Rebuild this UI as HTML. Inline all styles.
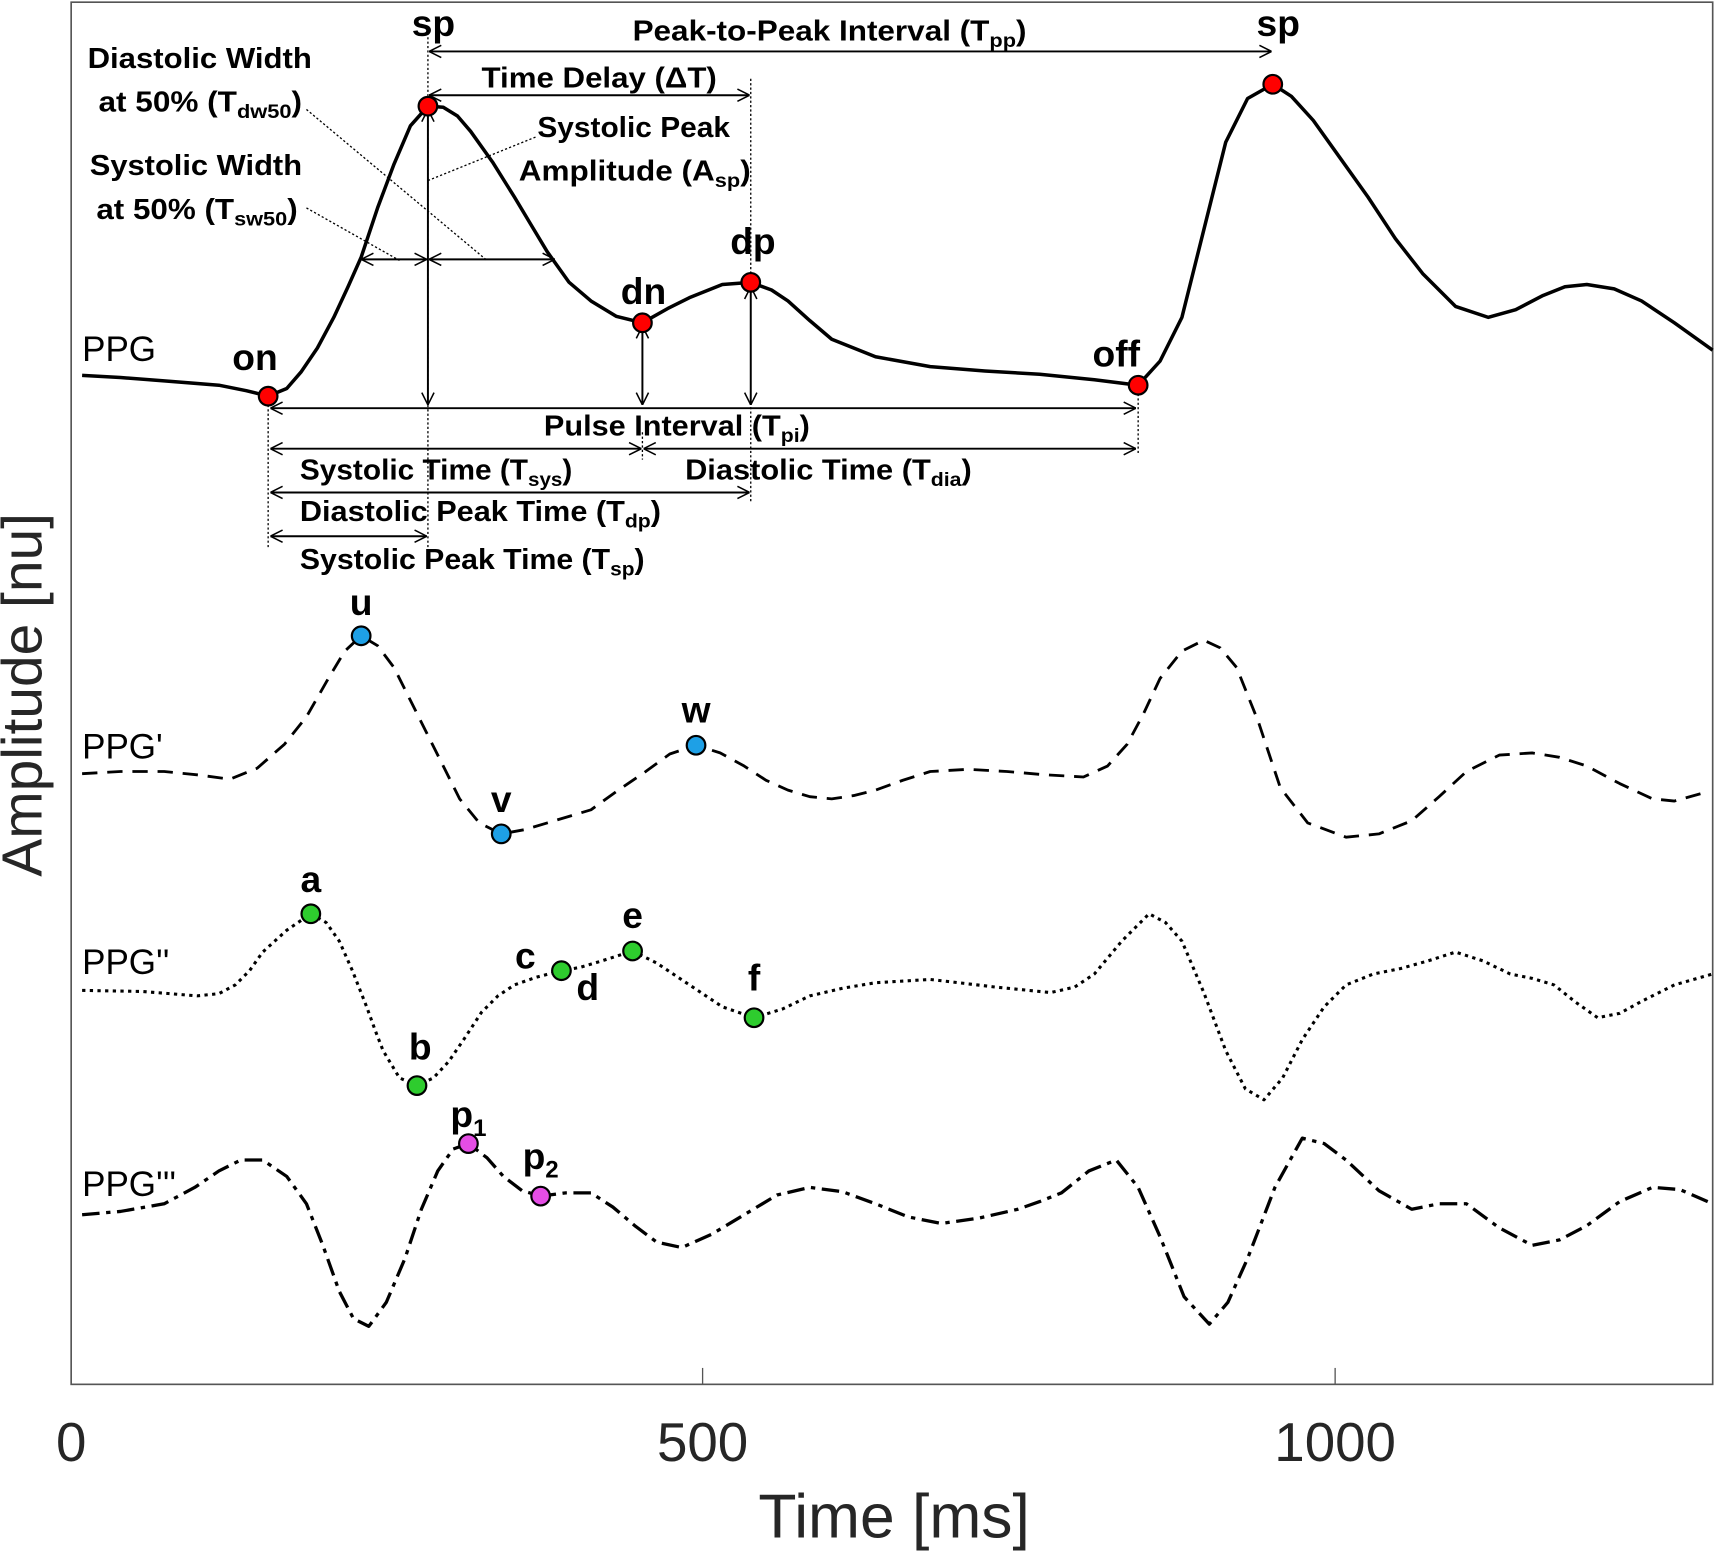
<!DOCTYPE html>
<html><head><meta charset="utf-8"><style>html,body{margin:0;padding:0;background:#fff}svg{display:block}</style></head>
<body>
<svg width="1716" height="1552" viewBox="0 0 1568 1418.2" xmlns="http://www.w3.org/2000/svg" font-family="Liberation Sans, sans-serif">
<defs>
<marker id="ah" viewBox="0 0 20 20" refX="20" refY="10" markerWidth="14" markerHeight="14" markerUnits="userSpaceOnUse" orient="auto-start-reverse"><path d="M4,2 L20,10 L4,18" fill="none" stroke="#000" stroke-width="2"/></marker>
</defs>
<rect x="65" y="2" width="1500" height="1263" fill="none" stroke="#555" stroke-width="1.5"/>
<line x1="642" y1="1265" x2="642" y2="1250" stroke="#555" stroke-width="1.2"/>
<line x1="1220" y1="1265" x2="1220" y2="1250" stroke="#555" stroke-width="1.2"/>
<g font-size="50" fill="#262626" text-anchor="middle">
<text x="65" y="1335">0</text><text x="642" y="1335">500</text><text x="1220" y="1335">1000</text>
<text x="817" y="1405" font-size="57">Time [ms]</text>
<text transform="translate(38,635) rotate(-90)" font-size="52">Amplitude [nu]</text>
</g>
<g fill="none" stroke="#000" stroke-linejoin="round" stroke-linecap="butt">
<polyline stroke-width="3.2" points="75,343 110,345 150,348 200,352 225,357 245,362 262,355 275,340 290,318 305,290 318,262 330,235 345,190 360,150 375,115 391,97 405,98 418,106 430,120 450,148 470,180 485,205 500,230 520,258 540,275 563,289 587,295 610,282 630,272 660,260 686,258 705,265 720,275 740,293 760,310 800,326 850,335 900,339 950,342 1000,347 1040,352 1060,330 1080,290 1100,210 1120,130 1140,90 1163,77 1180,88 1200,110 1225,145 1250,180 1275,218 1300,250 1330,280 1360,290 1385,283 1410,270 1430,262 1450,260 1475,264 1500,275 1530,295 1565,320"/>
<polyline stroke-width="2.6" stroke-dasharray="14,9" points="75,707 110,705 150,705 180,708 210,712 235,702 260,680 280,655 300,620 315,595 330,581 345,590 360,610 375,640 390,670 405,700 420,730 438,752 458,762 480,758 500,752 520,746 540,740 565,722 590,705 612,689 636,681 658,688 680,700 700,713 720,722 740,728 760,730 780,727 800,722 825,713 850,705 885,703 920,705 955,708 990,710 1012,700 1030,680 1045,652 1060,620 1080,595 1100,585 1115,592 1130,610 1150,660 1170,720 1195,752 1230,765 1260,762 1290,750 1315,728 1340,705 1370,690 1400,688 1425,692 1450,700 1480,716 1510,730 1530,732 1555,725"/>
<polyline stroke-width="2.8" stroke-dasharray="3,4" points="75,905 130,906 180,910 200,908 215,900 228,887 240,870 262,850 284,835 298,843 310,860 322,887 335,920 343,942 350,960 365,985 381,992 396,985 410,970 425,948 440,925 455,910 470,900 490,893 513,887 530,884 550,878 578,869 600,880 630,900 660,920 689,930 715,922 740,910 770,903 800,898 850,895 910,902 960,907 982,902 1000,890 1025,860 1050,835 1065,843 1080,860 1100,907 1120,960 1138,995 1155,1005 1172,985 1190,950 1210,920 1230,900 1255,890 1280,885 1305,878 1330,870 1355,878 1380,890 1400,894 1420,900 1440,916 1460,930 1480,926 1500,915 1530,900 1565,890"/>
<polyline stroke-width="3" stroke-dasharray="16,6,4,6" points="75,1110 110,1107 150,1100 178,1085 200,1070 220,1060 240,1060 262,1075 280,1100 295,1138 310,1180 323,1205 337,1212 353,1190 370,1150 385,1105 400,1070 414,1050 428,1045 445,1058 460,1075 477,1088 494,1093 517,1090 540,1090 560,1103 580,1120 600,1135 623,1140 650,1128 680,1110 710,1092 740,1085 770,1089 800,1100 830,1112 860,1118 895,1113 930,1105 950,1098 970,1090 995,1070 1020,1060 1040,1085 1060,1130 1082,1185 1105,1210 1122,1190 1140,1150 1165,1085 1190,1040 1210,1045 1230,1060 1260,1088 1290,1105 1315,1100 1340,1100 1370,1122 1400,1138 1425,1133 1450,1120 1480,1098 1510,1085 1535,1087 1565,1100"/>
</g>
<g stroke="#000" stroke-width="1.2" fill="none">
<line x1="391" y1="30" x2="391" y2="520" stroke-dasharray="2,2"/>
<line x1="686" y1="72" x2="686" y2="460" stroke-dasharray="2,2"/>
<line x1="245" y1="362" x2="245" y2="500" stroke-dasharray="2,2"/>
<line x1="1040" y1="352" x2="1040" y2="415" stroke-dasharray="2,2"/>
<line x1="587" y1="395" x2="587" y2="420" stroke-dasharray="2,2"/>
<line x1="280" y1="100" x2="445" y2="238" stroke-dasharray="2,2"/>
<line x1="280" y1="190" x2="365" y2="238" stroke-dasharray="2,2"/>
<line x1="391" y1="165" x2="490" y2="125" stroke-dasharray="2,2"/>
</g>
<g stroke="#000" stroke-width="1.8" fill="none" marker-start="url(#ah)" marker-end="url(#ah)">
<line x1="392" y1="47" x2="1162" y2="47"/>
<line x1="392" y1="87" x2="685" y2="87"/>
<line x1="391" y1="100" x2="391" y2="370"/>
<line x1="587" y1="298" x2="587" y2="370"/>
<line x1="686" y1="262" x2="686" y2="370"/>
<line x1="247" y1="373" x2="1038" y2="373"/>
<line x1="247" y1="410" x2="586" y2="410"/>
<line x1="588" y1="410" x2="1038" y2="410"/>
<line x1="247" y1="450" x2="685" y2="450"/>
<line x1="247" y1="490" x2="390" y2="490"/>
<line x1="330" y1="237" x2="390" y2="237"/>
<line x1="392" y1="237" x2="507" y2="237"/>
</g>
<g font-weight="bold" font-size="26" fill="#000">
<text x="80" y="62" textLength="205" lengthAdjust="spacingAndGlyphs">Diastolic Width</text>
<text x="90" y="102" textLength="186" lengthAdjust="spacingAndGlyphs">at 50% (T<tspan font-size="18" dy="6">dw50</tspan><tspan dy="-6">)</tspan></text>
<text x="82" y="160" textLength="194" lengthAdjust="spacingAndGlyphs">Systolic Width</text>
<text x="88" y="200" textLength="184" lengthAdjust="spacingAndGlyphs">at 50% (T<tspan font-size="18" dy="6">sw50</tspan><tspan dy="-6">)</tspan></text>
<text x="491" y="125" textLength="176" lengthAdjust="spacingAndGlyphs">Systolic Peak</text>
<text x="474" y="165" textLength="212" lengthAdjust="spacingAndGlyphs">Amplitude (A<tspan font-size="18" dy="6">sp</tspan><tspan dy="-6">)</tspan></text>
<text x="440" y="80" textLength="215" lengthAdjust="spacingAndGlyphs">Time Delay (ΔT)</text>
<text x="578" y="37" textLength="360" lengthAdjust="spacingAndGlyphs">Peak-to-Peak Interval (T<tspan font-size="18" dy="6">pp</tspan><tspan dy="-6">)</tspan></text>
<text x="497" y="398" textLength="243" lengthAdjust="spacingAndGlyphs">Pulse Interval (T<tspan font-size="18" dy="6">pi</tspan><tspan dy="-6">)</tspan></text>
<text x="274" y="438" textLength="249" lengthAdjust="spacingAndGlyphs">Systolic Time (T<tspan font-size="18" dy="6">sys</tspan><tspan dy="-6">)</tspan></text>
<text x="626" y="438" textLength="262" lengthAdjust="spacingAndGlyphs">Diastolic Time (T<tspan font-size="18" dy="6">dia</tspan><tspan dy="-6">)</tspan></text>
<text x="274" y="476" textLength="330" lengthAdjust="spacingAndGlyphs">Diastolic Peak Time (T<tspan font-size="18" dy="6">dp</tspan><tspan dy="-6">)</tspan></text>
<text x="274" y="520" textLength="315" lengthAdjust="spacingAndGlyphs">Systolic Peak Time (T<tspan font-size="18" dy="6">sp</tspan><tspan dy="-6">)</tspan></text>
</g>
<g font-weight="bold" font-size="34" fill="#000" text-anchor="middle">
<text x="396" y="33">sp</text><text x="1168" y="33">sp</text>
<text x="233" y="338">on</text><text x="588" y="278">dn</text><text x="688" y="232">dp</text><text x="1020" y="335">off</text>
<text x="330" y="562">u</text><text x="458" y="742">v</text><text x="636" y="660">w</text>
<text x="284" y="815">a</text><text x="384" y="968">b</text><text x="480" y="885">c</text><text x="537" y="914">d</text><text x="578" y="848">e</text><text x="689" y="905">f</text>
<text x="428" y="1030">p<tspan font-size="22" dy="8">1</tspan></text>
<text x="494" y="1068">p<tspan font-size="22" dy="8">2</tspan></text>
</g>
<g font-size="32" fill="#000">
<text x="75" y="330">PPG</text><text x="75" y="693">PPG'</text><text x="75" y="890">PPG''</text><text x="75" y="1093">PPG'''</text>
</g>
<g stroke="#000" stroke-width="2">
<circle cx="245" cy="362" r="8.5" fill="#f00"/><circle cx="391" cy="97" r="8.5" fill="#f00"/><circle cx="587" cy="295" r="8.5" fill="#f00"/><circle cx="686" cy="258" r="8.5" fill="#f00"/><circle cx="1040" cy="352" r="8.5" fill="#f00"/><circle cx="1163" cy="77" r="8.5" fill="#f00"/>
<circle cx="330" cy="581" r="8.5" fill="#1ea0e6"/><circle cx="458" cy="762" r="8.5" fill="#1ea0e6"/><circle cx="636" cy="681" r="8.5" fill="#1ea0e6"/>
<circle cx="284" cy="835" r="8.5" fill="#2ecc2e"/><circle cx="381" cy="992" r="8.5" fill="#2ecc2e"/><circle cx="513" cy="887" r="8.5" fill="#2ecc2e"/><circle cx="578" cy="869" r="8.5" fill="#2ecc2e"/><circle cx="689" cy="930" r="8.5" fill="#2ecc2e"/>
<circle cx="428" cy="1045" r="8.5" fill="#e54de5"/><circle cx="494" cy="1093" r="8.5" fill="#e54de5"/>
</g>
</svg>
</body></html>
